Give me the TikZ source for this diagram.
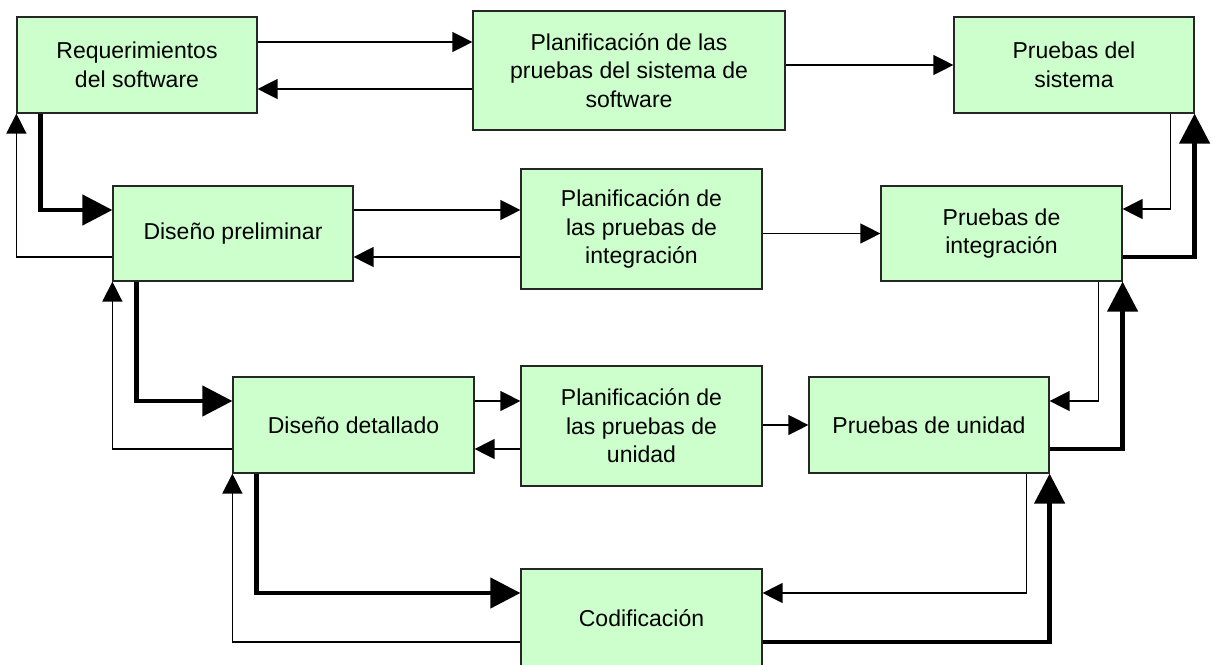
\documentclass[tikz,border=0pt]{standalone}
\usepackage{fontspec}
\setmainfont{Liberation Sans}
\usetikzlibrary{arrows.meta}
\definecolor{verde}{HTML}{CCFFCC}
\tikzstyle{caja}=[draw=black!85, fill=verde, line width=1.2pt, align=center,
    inner sep=2pt, font=\fontsize{23}{28.5}\selectfont]
\tikzstyle{flecha}=[line width=1.3pt, -{Triangle[length=20pt,width=20pt]}]
\tikzstyle{gruesa}=[line width=4.5pt, -{Triangle[length=30pt,width=30pt]}]

\begin{document}
\begin{tikzpicture}[x=1pt,y=-1pt]
    \useasboundingbox (0,0) rectangle (1218,664);

    \node[caja, minimum width=240pt, minimum height=96pt]  (req)     at (137,65)      {Requerimientos\\del software};
    \node[caja, minimum width=312pt, minimum height=119pt] (plansis) at (629,70.5)    {Planificación de las\\pruebas del sistema de\\software};
    \node[caja, minimum width=240pt, minimum height=96pt]  (prusis)  at (1074,65)     {Pruebas del\\sistema};

    \node[caja, minimum width=240pt, minimum height=95pt]  (dpre)    at (233,233.5)   {Diseño preliminar};
    \node[caja, minimum width=241pt, minimum height=120pt] (planint) at (641.5,229)   {Planificación de\\las pruebas de\\integración};
    \node[caja, minimum width=241pt, minimum height=95pt]  (pruint)  at (1001.5,233.5) {Pruebas de\\integración};

    \node[caja, minimum width=241pt, minimum height=96pt]  (ddet)    at (353.5,425)   {Diseño detallado};
    \node[caja, minimum width=241pt, minimum height=120pt] (planuni) at (641.5,426)   {Planificación de\\las pruebas de\\unidad};
    \node[caja, minimum width=240pt, minimum height=96pt]  (pruuni)  at (929,425)     {Pruebas de unidad};

    \node[caja, minimum width=241pt, minimum height=98pt]  (cod)     at (641.5,618)   {Codificación};

    % fila superior
    \draw[flecha] ([yshift=23pt]req.east) -- ([yshift=23pt]req.east -| plansis.west);
    \draw[flecha] ([yshift=-24pt]req.east -| plansis.west) -- ([yshift=-24pt]req.east);
    \draw[flecha] (plansis.east |- prusis.west) -- (prusis.west);
    \draw[gruesa] ([xshift=24pt]req.south west) |- ([yshift=23.5pt]dpre.west);
    \draw[flecha] ([yshift=-23.5pt]dpre.west) -| (req.south west);
    \draw[flecha] ([xshift=-24pt]prusis.south east) |- ([yshift=24.5pt]pruint.east);
    \draw[gruesa] ([yshift=-23.5pt]pruint.east) -| (prusis.south east);

    % fila media
    \draw[flecha] ([yshift=23.5pt]dpre.east) -- ([yshift=23.5pt]dpre.east -| planint.west);
    \draw[flecha] ([yshift=-23.5pt]dpre.east -| planint.west) -- ([yshift=-23.5pt]dpre.east);
    \draw[flecha] (planint.east |- pruint.west) -- (pruint.west);
    \draw[gruesa] ([xshift=24pt]dpre.south west) |- ([yshift=24pt]ddet.west);
    \draw[flecha] ([yshift=-24pt]ddet.west) -| (dpre.south west);
    \draw[flecha] ([xshift=-24pt]pruint.south east) |- ([yshift=24pt]pruuni.east);
    \draw[gruesa] ([yshift=-24pt]pruuni.east) -| (pruint.south east);

    % fila inferior
    \draw[flecha] ([yshift=24pt]ddet.east) -- ([yshift=24pt]ddet.east -| planuni.west);
    \draw[flecha] ([yshift=-24pt]ddet.east -| planuni.west) -- ([yshift=-24pt]ddet.east);
    \draw[flecha] (planuni.east |- pruuni.west) -- (pruuni.west);
    \draw[gruesa] ([xshift=24pt]ddet.south west) |- ([yshift=25pt]cod.west);
    \draw[flecha] ([yshift=-24pt]cod.west) -| (ddet.south west);
    \draw[flecha] ([xshift=-23pt]pruuni.south east) |- ([yshift=25pt]cod.east);
    \draw[gruesa] ([yshift=-24pt]cod.east) -| (pruuni.south east);
\end{tikzpicture}
\end{document}
